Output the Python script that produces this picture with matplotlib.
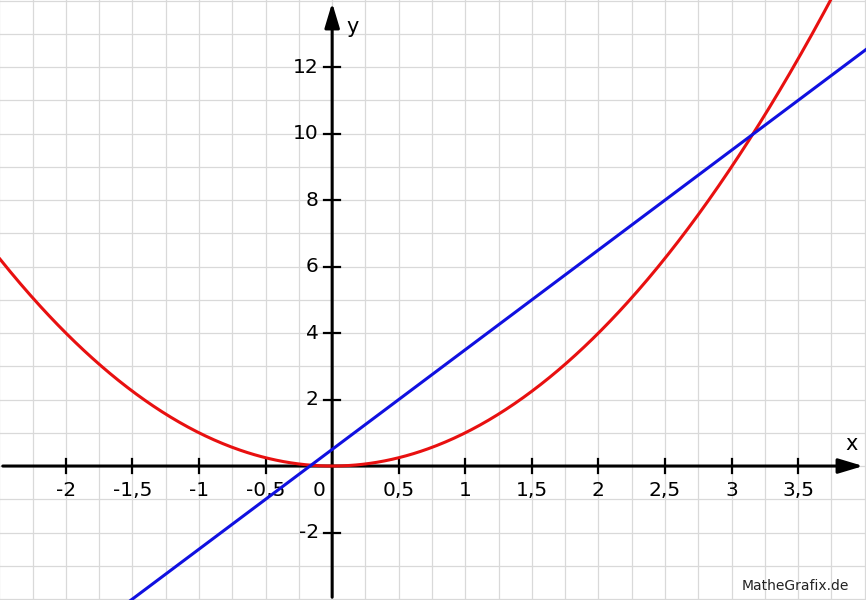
import numpy as np
import matplotlib.pyplot as plt

# Funktionen
parabel_koeff = [1.0, 0.0, 0.0]   # f(x) = x^2
gerade_koeff = [3.0, 0.5]         # g(x) = 3x + 0,5

x_ticks = [-2, -1.5, -1, -0.5, 0.5, 1, 1.5, 2, 2.5, 3, 3.5]
y_ticks = [-2, 2, 4, 6, 8, 10, 12]

xmin, xmax = -2.495, 4.01
ymin, ymax = -4.03, 14.02

fig = plt.figure(figsize=(8.66, 6), dpi=100)
ax = fig.add_axes([0, 0, 1, 1])
ax.set_xlim(xmin, xmax)
ax.set_ylim(ymin, ymax)

# Gitter
for gx in np.arange(-2.5, 4.01, 0.25):
    ax.axvline(gx, color="#d9d9d9", lw=0.9, zorder=0)
for gy in np.arange(-4, 14.01, 1):
    ax.axhline(gy, color="#d9d9d9", lw=0.9, zorder=0)

for s in ax.spines.values():
    s.set_visible(False)
ax.set_xticks([])
ax.set_yticks([])

# Achsen mit Pfeilen
pfeil = dict(arrowstyle="-|>,head_length=1.5,head_width=0.45", color="black", lw=2.2)
ax.annotate("", xy=(xmax, 0), xytext=(xmin, 0), arrowprops=pfeil, zorder=3)
ax.annotate("", xy=(0, ymax), xytext=(0, ymin), arrowprops=pfeil, zorder=3)

ax.text(3.9, 0.35, "x", fontsize=15, ha="center", va="bottom")
ax.text(0.15, 13.2, "y", fontsize=15, ha="center", va="center")

# Teilstriche und Beschriftungen
for t in x_ticks:
    ax.plot([t, t], [-0.2, 0.2], color="black", lw=1.6, zorder=3)
    ax.text(t, -0.45, str(t).replace(".", ","), fontsize=14.5, ha="center", va="top")
ax.text(-0.1, -0.45, "0", fontsize=14.5, ha="center", va="top")
for t in y_ticks:
    ax.plot([-0.06, 0.06], [t, t], color="black", lw=1.6, zorder=3)
    ax.text(-0.1, t, str(t), fontsize=14.5, ha="right", va="center")

# Kurven
xs = np.linspace(xmin, xmax, 600)
ax.plot(xs, np.polyval(parabel_koeff, xs), color="#e81010", lw=2.2, zorder=4)
ax.plot(xs, np.polyval(gerade_koeff, xs), color="#1010e0", lw=2.2, zorder=4)

ax.text(3.88, -3.6, "MatheGrafix.de", fontsize=10, ha="right", va="center", color="#222222")

fig.savefig("out.png", dpi=100)
